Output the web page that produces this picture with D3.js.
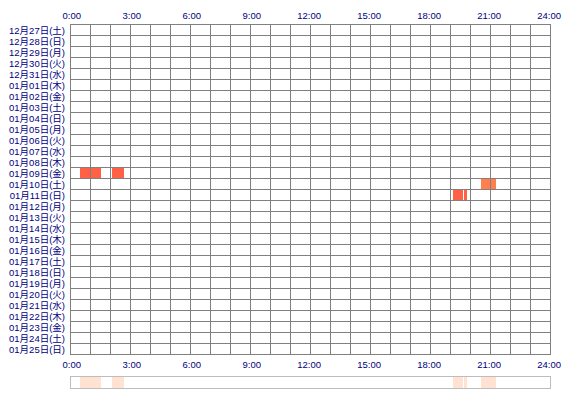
<!DOCTYPE html>
<html><head><meta charset="utf-8">
<script src="https://cdn.jsdelivr.net/npm/d3@7"></script>
<style>body{margin:0;background:#fff}svg{display:block}</style>
</head><body>
<svg id="c" width="570" height="400"></svg>
<script>
const dayLabels = ["12月27日(土)","12月28日(日)","12月29日(月)","12月30日(火)","12月31日(水)",
"01月01日(木)","01月02日(金)","01月03日(土)","01月04日(日)","01月05日(月)","01月06日(火)","01月07日(水)",
"01月08日(木)","01月09日(金)","01月10日(土)","01月11日(日)","01月12日(月)","01月13日(火)","01月14日(水)",
"01月15日(木)","01月16日(金)","01月17日(土)","01月18日(日)","01月19日(月)","01月20日(火)","01月21日(水)",
"01月22日(木)","01月23日(金)","01月24日(土)","01月25日(日)"];
const tickHours = [0,3,6,9,12,15,18,21,24];
const tickLabels = ["0:00","3:00","6:00","9:00","12:00","15:00","18:00","21:00","24:00"];
// sessions: day label, start minute, end minute, intensity
const sessionDays = ["01月09日(金)","01月09日(金)","01月10日(土)","01月11日(日)","01月11日(日)"];
const sessionStart = [30, 126, 1233, 1149, 1182];
const sessionEnd   = [93, 162, 1278, 1179, 1191];
const sessionLevel = [2, 2, 1, 2, 2];

const svg = d3.select("#c");
const x = d3.scaleLinear().domain([0, 24*60]).range([70, 550]);
const y = d3.scaleBand().domain(dayLabels).range([24, 354]);
const color = d3.scaleOrdinal().domain([1,2]).range(["#ff7f4f","#ff6046"]);
const font = "'Liberation Sans', 'Noto Sans CJK JP', sans-serif";
const navy = "#000080";

const sessions = sessionDays.map((d,i)=>({day:d, s:sessionStart[i], e:sessionEnd[i], lv:sessionLevel[i]}));

// blocks
svg.append("g").selectAll("rect").data(sessions).join("rect")
  .attr("x", d=>x(d.s)).attr("width", d=>x(d.e)-x(d.s))
  .attr("y", d=>y(d.day)+0.5).attr("height", y.bandwidth()-0.5)
  .attr("fill", d=>color(d.lv));

// grid
const g = svg.append("g").attr("stroke","#808080").attr("stroke-width",1).attr("shape-rendering","crispEdges");
g.selectAll("line.v").data(d3.range(0,25)).join("line").attr("class","v")
  .attr("x1", h=>x(h*60)+0.5).attr("x2", h=>x(h*60)+0.5)
  .attr("y1", y.range()[0]).attr("y2", y.range()[1]+1);
g.selectAll("line.h").data(d3.range(0, dayLabels.length+1)).join("line").attr("class","h")
  .attr("y1", i=>y.range()[0]+i*y.step()+0.5).attr("y2", i=>y.range()[0]+i*y.step()+0.5)
  .attr("x1", x.range()[0]).attr("x2", x.range()[1]+1);

// row labels
svg.append("g").selectAll("text").data(dayLabels).join("text")
  .attr("x", 65).attr("y", d=>y(d)+y.bandwidth()/2+4)
  .attr("text-anchor","end")
  .attr("font-family", font).attr("font-size", 9.5).attr("fill", navy)
  .text(d=>d);

// top & bottom axes labels
[19, 367.5].forEach(yy=>{
  svg.append("g").selectAll("text").data(tickHours).join("text")
    .attr("x", (h)=>x(h*60)+11).attr("y", yy)
    .attr("text-anchor","end")
    .attr("font-family", font).attr("font-size", 9.5).attr("fill", navy)
    .text((h,i)=>tickLabels[i]);
});

// overview strip
const stripY = 376, stripH = 12;
svg.append("g").selectAll("rect").data(sessions).join("rect")
  .attr("x", d=>x(d.s)).attr("width", d=>x(d.e)-x(d.s))
  .attr("y", stripY).attr("height", stripH)
  .attr("fill", "#ffe2d2");
svg.append("rect").attr("x", x.range()[0]+0.5).attr("y", stripY+0.5)
  .attr("width", x.range()[1]-x.range()[0]).attr("height", stripH)
  .attr("fill","none").attr("stroke","#bdbdbd").attr("shape-rendering","crispEdges");
</script>
</body></html>
